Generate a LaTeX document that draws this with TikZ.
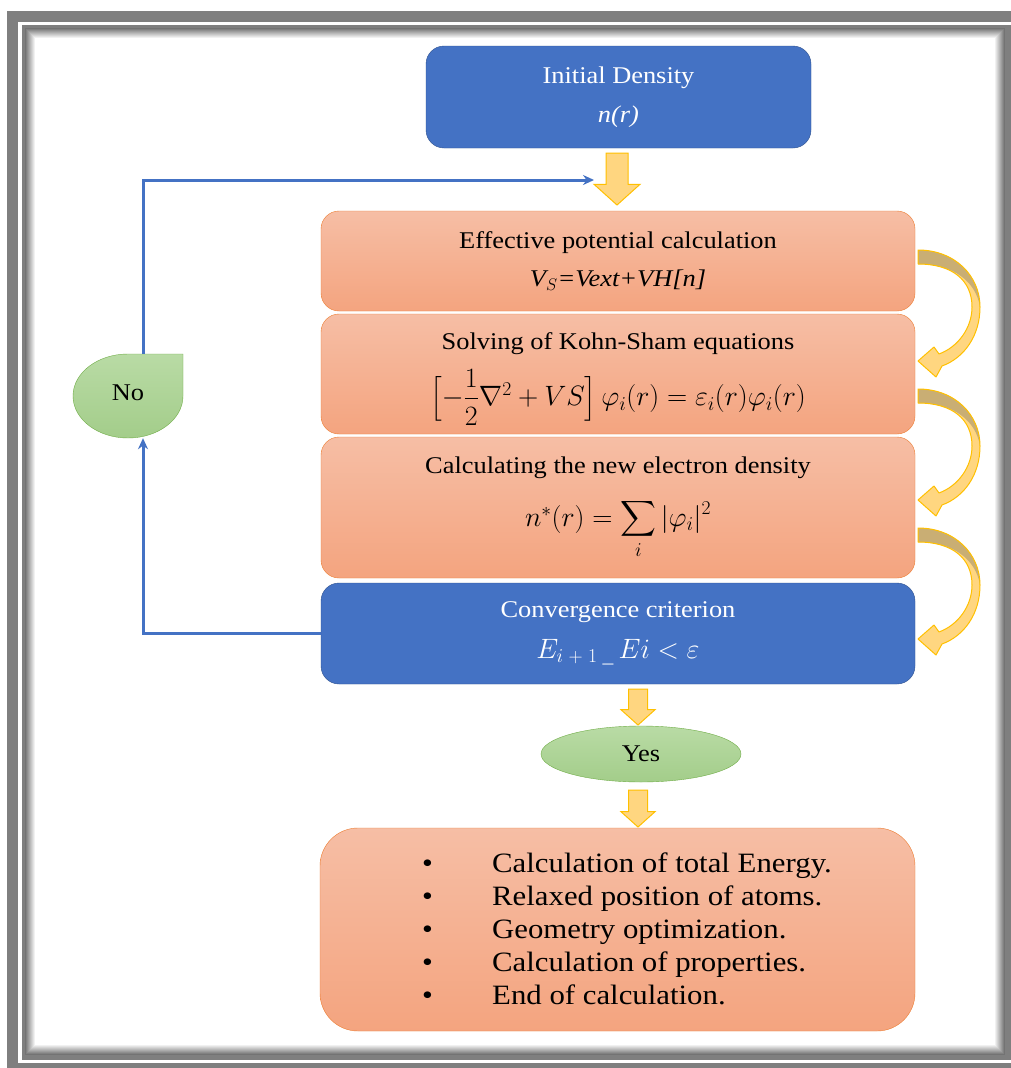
\RequirePackage{fix-cm}
\documentclass[tikz,border=0pt]{standalone}
\usepackage{amsmath}
\usepackage{fontspec}
\setmainfont{Liberation Serif}[FakeStretch=1.1]
\usetikzlibrary{arrows.meta,positioning,shapes.geometric}

\definecolor{boxblue}{HTML}{4472C4}
\definecolor{blueline}{HTML}{2F528F}
\definecolor{orangetop}{HTML}{F6BEA5}
\definecolor{orangebot}{HTML}{F4A47F}
\definecolor{orangeline}{HTML}{ED7D31}
\definecolor{greentop}{HTML}{B9DBA5}
\definecolor{greenbot}{HTML}{A3CD8A}
\definecolor{greenline}{HTML}{70AD47}
\definecolor{arrowfill}{HTML}{FFD680}
\definecolor{arrowline}{HTML}{FFC000}
\definecolor{arrowdark}{HTML}{C9AE74}
\definecolor{framegray}{HTML}{7F7F7F}

\newcommand\mathbig{\fontsize{28}{34}\selectfont}
% outline of one bent arrow, start at (0,0)
\newcommand\bendpath{(0,0) .. controls (37,0) and (62,26) .. (62,57)
  .. controls (62,86) and (46,108) .. (24,116) -- (18,127) -- (0,111)
  -- (16,97) -- (21,104) .. controls (40,97) and (54,78) .. (54,57)
  .. controls (54,30) and (34,14) .. (0,14) -- cycle}

\begin{document}
\begin{tikzpicture}[
  x=1pt, y=-1pt,
  >=Stealth,
  bluebox/.style={draw=blueline, fill=boxblue, rounded corners=18pt, text=white,
    align=center, font=\fontsize{24}{29}\selectfont},
  orangebox/.style={draw=orangeline, top color=orangetop, bottom color=orangebot,
    rounded corners=18pt, align=center, font=\fontsize{24}{29}\selectfont},
  answer/.style={draw=greenline, top color=greentop, bottom color=greenbot,
    font=\fontsize{24}{29}\selectfont},
  blockarrow/.style={fill=arrowfill, draw=arrowline, line width=1pt},
  loopline/.style={draw=boxblue, line width=3pt, -{Stealth[length=11pt,width=10pt]}},
]
  % page and double frame
  \useasboundingbox (0,0) rectangle (1011,1068);
  \fill[framegray] (7,11) rectangle (1011,1068);
  \fill[white] (18,22) rectangle (1011,1063);
  \fill[framegray] (22,25) rectangle (1011,1060);
  \foreach \i [evaluate=\i as \c using 55-5.5*\i] in {0,...,9}
    \fill[black!\c] ({25+\i},{28+\i}) rectangle ({1005-\i},{1055-\i});
  \fill[white] (35,38) rectangle (995,1045);

  % boxes
  \node[bluebox, minimum width=385, minimum height=102] (init) at (618.5,97)
    {Initial Density\\[10pt] \textit{n(r)}};
  \node[orangebox, minimum width=594, minimum height=100] (veff) at (618,261)
    {Effective potential calculation\\[9pt] \textit{V$_{S}$=Vext+VH[n]}};
  \node[orangebox, minimum width=594, minimum height=120] (ks) at (618,374)
    {\rule{0pt}{27pt}Solving of Kohn-Sham equations\\[13pt]
     {\mathbig\delimiterfactor=700 \delimitershortfall=20pt
      $\left[-\dfrac{1}{2}\nabla^{2}+VS\right]\varphi_{i}(r)=\varepsilon_{i}(r)\varphi_{i}(r)$}};
  \node[orangebox, minimum width=594, minimum height=141] (dens) at (618,507.5)
    {Calculating the new electron density\\[20pt]
     {\mathbig$n^{*}(r)=\displaystyle\sum_{i}|\varphi_{i}|^{2}$}};
  \node[bluebox, minimum width=594, minimum height=101] (conv) at (618,633.5)
    {Convergence criterion\\[12pt]
     {\mathbig$E_{i\;+\;1\;\text{\textunderscore}}\,Ei<\varepsilon$}};
  \node[answer, ellipse, minimum width=200, minimum height=56] (yes) at (641,754) {Yes};
  \node[orangebox, rounded corners=38pt, minimum width=595, minimum height=203] (final)
    at (617.5,929.5) {};
  \node[anchor=west, align=left, inner sep=0pt, font=\fontsize{28}{33}\selectfont]
    (results) at (422,929) {%
      \makebox[70pt][l]{\textbullet}Calculation of total Energy.\\
      \makebox[70pt][l]{\textbullet}Relaxed position of atoms.\\
      \makebox[70pt][l]{\textbullet}Geometry optimization.\\
      \makebox[70pt][l]{\textbullet}Calculation of properties.\\
      \makebox[70pt][l]{\textbullet}End of calculation.};

  % "No" answer: rounded shape with one square corner
  \path[draw=greenline, top color=greentop, bottom color=greenbot]
    (128,354) -- (183,354) -- (183,396)
    arc[start angle=0, end angle=270, x radius=55, y radius=42] -- cycle;
  \node[minimum width=110, minimum height=84, inner sep=0pt,
    font=\fontsize{24}{29}\selectfont] (no) at (128,396) {\raisebox{7pt}{No}};

  % yellow block arrows
  \foreach \x/\ya/\yb/\sw/\hw in {617/153/205/11/23, 638/689/725/9.5/17, 638/790/827/9.5/17}
    \filldraw[blockarrow] ({\x-\sw},\ya) -- ({\x+\sw},\ya) -- ({\x+\sw},{\yb-0.9*\hw})
      -- ({\x+\hw},{\yb-0.9*\hw}) -- (\x,\yb) -- ({\x-\hw},{\yb-0.9*\hw})
      -- ({\x-\sw},{\yb-0.9*\hw}) -- cycle;

  % bent arrows on the right
  \foreach \y in {250,389,528} {
    \begin{scope}[shift={(918,\y)}]
      \fill[arrowfill] \bendpath;
      \fill[arrowdark] (0,0) .. controls (37,0) and (62,26) .. (62,57)
        .. controls (58,32) and (36,14) .. (0,14) -- cycle;
      \draw[arrowline, line width=1pt, line join=round] \bendpath;
    \end{scope}
  }

  % loop back
  \coordinate (loopx) at (143,0);
  \coordinate (loopin) at (594,180);
  \draw[loopline] (conv.west) -| (no.south -| loopx);
  \draw[loopline] (no.north -| loopx) |- (loopin);
\end{tikzpicture}
\end{document}
